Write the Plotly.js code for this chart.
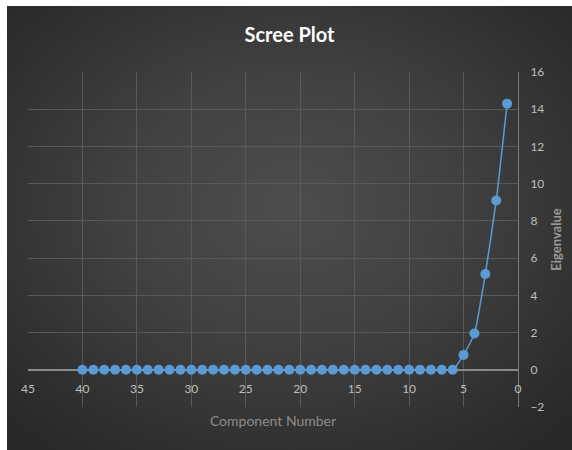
<!DOCTYPE html>
<html>
<head>
<meta charset="utf-8">
<script src="https://cdn.plot.ly/plotly-3.0.1.min.js"></script>
<style>
html,body{margin:0;padding:0;background:#ffffff;width:572px;height:450px;overflow:hidden}
#bg{position:absolute;left:7px;top:6px;width:565px;height:444px;
background:radial-gradient(ellipse 70% 70% at 50% 45%, #4d4d4d 0%, #424242 40%, #2e2e2e 85%, #282828 100%);}
#chart{position:absolute;left:0;top:0;width:565px;height:444px}
</style>
</head>
<body>
<div id="bg"><div id="chart"></div></div>
<script>
const components = [1,2,3,4,5,6,7,8,9,10,11,12,13,14,15,16,17,18,19,20,
                    21,22,23,24,25,26,27,28,29,30,31,32,33,34,35,36,37,38,39,40];
const eigenvalues = [14.3, 9.1, 5.15, 1.95, 0.8, 0, 0, 0, 0, 0,
                     0, 0, 0, 0, 0, 0, 0, 0, 0, 0,
                     0, 0, 0, 0, 0, 0, 0, 0, 0, 0,
                     0, 0, 0, 0, 0, 0, 0, 0, 0, 0];
const xTickValues = [45, 40, 35, 30, 25, 20, 15, 10, 5, 0];
const yTickValues = [-2, 0, 2, 4, 6, 8, 10, 12, 14, 16];

const FONT = 'Lato, "Open Sans", sans-serif';
const blue = '#5b9bd5';

const traces = [
  {
    x: components, y: eigenvalues, type: 'scatter', mode: 'lines+markers',
    line: {color: blue, width: 1.5, shape: 'spline', smoothing: 0.5},
    marker: {color: blue, size: 10},
    showlegend: false, hoverinfo: 'x+y'
  },
  {
    x: components, y: eigenvalues, type: 'scatter', mode: 'markers',
    xaxis: 'x2', opacity: 0, showlegend: false, hoverinfo: 'skip'
  }
];

const layout = {
  width: 565, height: 444,
  margin: {l: 21, r: 54, t: 66, b: 43},
  paper_bgcolor: 'rgba(0,0,0,0)',
  plot_bgcolor: 'rgba(0,0,0,0)',
  font: {family: FONT, color: '#bfbfbf'},
  title: {
    text: '<b>Scree Plot</b>', font: {family: FONT, size: 20, color: '#ffffff'},
    xref: 'container', x: 0.5, xanchor: 'center',
    yref: 'container', y: 0.935, yanchor: 'middle'
  },
  xaxis: {
    range: [45, 0], tickvals: xTickValues, showticklabels: false,
    showgrid: true, gridcolor: '#595959', gridwidth: 1,
    zeroline: true, zerolinecolor: '#7a7a7a', zerolinewidth: 1,
    showline: false, fixedrange: true,
    title: {text: 'Component Number', font: {family: FONT, size: 14, color: '#8c8c8c'}, standoff: 9}
  },
  xaxis2: {
    overlaying: 'x', anchor: 'free', position: 2/18, side: 'bottom',
    range: [45, 0], tickvals: xTickValues,
    showgrid: false, zeroline: false, showline: false,
    ticks: 'outside', ticklen: 8, tickcolor: 'rgba(0,0,0,0)',
    tickfont: {family: FONT, size: 12, color: '#bfbfbf'}, fixedrange: true
  },
  yaxis: {
    side: 'right', range: [-2, 16], tickvals: yTickValues,
    showgrid: true, gridcolor: '#595959', gridwidth: 1,
    zeroline: true, zerolinecolor: '#8a8a8a', zerolinewidth: 1.5,
    showline: false,
    ticks: 'outside', ticklen: 9, tickcolor: 'rgba(0,0,0,0)',
    tickfont: {family: FONT, size: 12, color: '#bfbfbf'}, fixedrange: true,
    title: {text: '<b>Eigenvalue</b>', font: {family: FONT, size: 13, color: '#9a9a9a'}, standoff: 8}
  }
};

Plotly.newPlot('chart', traces, layout, {displayModeBar: false, staticPlot: false});
</script>
</body>
</html>
